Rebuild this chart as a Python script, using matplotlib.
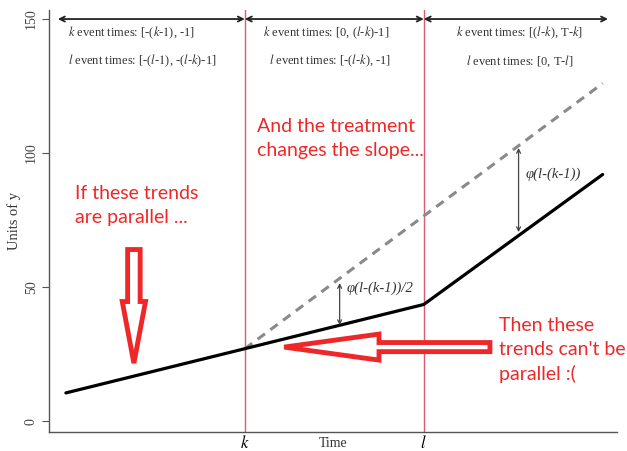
import matplotlib
matplotlib.use('Agg')
from matplotlib import pyplot as plt
from matplotlib.patches import FancyArrow


# Event times and outcome values
k_time = 10
l_time = 20
T_time = 30
times = [0, k_time, l_time, T_time]
observed = [10.5, 27, 43.5, 92]
counter_times = [k_time, T_time]
counterfactual = [27, 126]

# Effect arrows: (time, top, bottom, label)
effect_arrows = [
	(25.3, 101.9, 70.5, 'φ(l-(k-1))'),
	(15.3, 51.5, 35.8, 'φ(l-(k-1))/2'),
]

period_labels_k = [r'$k$ event times: [-($k$-$1$), -1]', r'$k$ event times: [0, ($l$-$k$)-1]', r'$k$ event times: [($l$-$k$), T-$k$]']
period_labels_l = [r'$l$ event times: [-($l$-$1$), -($l$-$k$)-1]', r'$l$ event times: [-($l$-$k$), -1]', r'$l$ event times: [0, T-$l$]']

plt.rcParams['font.family'] = ['Liberation Serif', 'DejaVu Serif']
plt.rcParams['mathtext.fontset'] = 'stix'

fig = plt.figure(figsize=(6.27, 4.51), dpi=100)
ax = fig.add_axes([0.078, 0.042, 0.906, 0.936])
ax.set_xlim(-0.95, 30.8)
ax.set_ylim(-4.1, 153.4)

# Treatment dates
for t in (k_time, l_time):
	ax.axvline(t, color='#dc5a72', lw=1.0, zorder=1)

ax.plot(counter_times, counterfactual, color='#8a8a8a', lw=2.2, dashes=(3, 2.2), zorder=2)
ax.plot(times, observed, color='black', lw=2.3, solid_capstyle='round', zorder=3)

for t, top, bottom, label in effect_arrows:
	ax.annotate('', xy=(t, top), xytext=(t, bottom),
		arrowprops=dict(arrowstyle='<->', color='#444444', lw=0.9, shrinkA=0, shrinkB=0, mutation_scale=7))
	ax.text(t + 0.4, (top + bottom) / 2 + 6, label, fontsize=10.5, style='italic', color='#333333', va='center')

# Period spans along the top
spans = [(-0.45, k_time), (k_time, l_time), (l_time, 30.3)]
for a, b in spans:
	ax.annotate('', xy=(a, 150), xytext=(b, 150),
		arrowprops=dict(arrowstyle='<->', color='#222222', lw=1.3, shrinkA=0, shrinkB=0, mutation_scale=9))
top_font = dict(fontsize=9, va='center', color='#333333')
ax.text(0.1, 144.8, period_labels_k[0], ha='left', **top_font)
ax.text(0.1, 134.3, period_labels_l[0], ha='left', **top_font)
ax.text(14.55, 144.8, period_labels_k[1], ha='center', **top_font)
ax.text(14.75, 134.3, period_labels_l[1], ha='center', **top_font)
ax.text(25.35, 144.8, period_labels_k[2], ha='center', **top_font)
ax.text(25.35, 134.3, period_labels_l[2], ha='center', **top_font)

# Red callouts
red = '#ee2828'
callout = dict(fontsize=14, color=red, family=['Lato', 'DejaVu Sans'], linespacing=1.5, va='top', ha='left')
ax.text(0.5, 88.0, 'If these trends\nare parallel ...', **callout)
ax.text(10.7, 113.0, 'And the treatment\nchanges the slope...', **callout)
ax.text(24.2, 39.0, "Then these\ntrends can't be\nparallel :(", **callout)

ax.add_patch(FancyArrow(3.8, 64.0, 0, -42.4, width=0.7, head_width=1.3, head_length=23,
	length_includes_head=True, facecolor='white', edgecolor=red, lw=3.5, zorder=4, transform=ax.transData))
ax.add_patch(FancyArrow(23.7, 27.6, -11.5, 0, width=3.4, head_width=9.7, head_length=5.3,
	length_includes_head=True, facecolor='white', edgecolor=red, lw=3.5, zorder=4, transform=ax.transData))

# Axes styling
for side in ('top', 'right'):
	ax.spines[side].set_visible(False)
for side in ('left', 'bottom'):
	ax.spines[side].set_color('#555555')
	ax.spines[side].set_linewidth(1.0)
ax.set_yticks([0, 50, 100, 150])
ax.set_yticklabels(['0', '50', '100', '150'], rotation=90, va='center', fontsize=10, color='#444444')
ax.tick_params(axis='y', length=5, color='#555555', pad=3)
ax.set_xticks([k_time, l_time])
ax.set_xticklabels([r'$k$', r'$l$'], fontsize=12)
ax.tick_params(axis='x', length=0, pad=2)
ax.set_xlabel('Time', fontsize=10, labelpad=-11, color='#333333')
ax.set_ylabel('Units of y', fontsize=10.5, color='#333333', labelpad=3)

fig.savefig('out.png', dpi=100)
